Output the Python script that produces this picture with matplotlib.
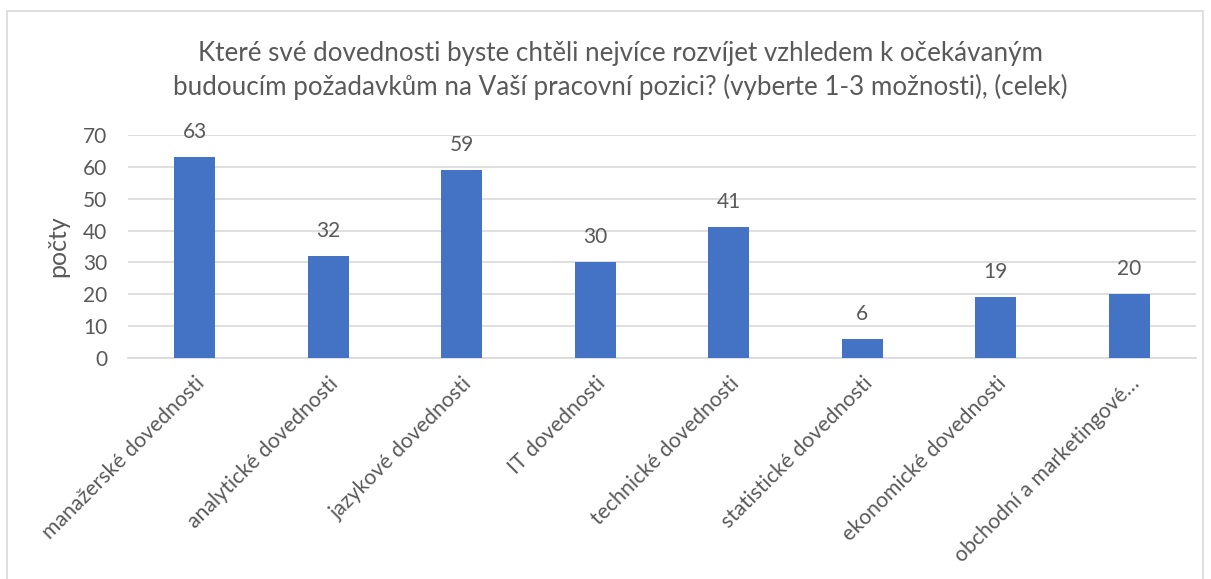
import matplotlib.pyplot as plt
import matplotlib.patches as patches

plt.rcParams['font.family'] = ['Lato', 'DejaVu Sans']

categories = ['manažerské dovednosti', 'analytické dovednosti', 'jazykové dovednosti',
              'IT dovednosti', 'technické dovednosti', 'statistické dovednosti',
              'ekonomické dovednosti', 'obchodní a marketingové…']
values = [63, 32, 59, 30, 41, 6, 19, 20]
yticks = [0, 10, 20, 30, 40, 50, 60, 70]

txt = '#595959'

fig = plt.figure(figsize=(12.11, 5.79), dpi=100)
ax = fig.add_axes([0.1057, 0.3817, 0.8819, 0.3851])

x = range(len(categories))
bars = ax.bar(x, values, width=0.31, color='#4472C4', zorder=3)
for b, v in zip(bars, values):
    ax.annotate(str(v), (b.get_x() + b.get_width() / 2, v), xytext=(0, 18),
                textcoords='offset points', ha='center', va='center',
                fontsize=15, color=txt)

ax.set_xlim(-0.5, len(categories) - 0.5)
ax.set_ylim(0, 70)
ax.set_yticks(yticks)
ax.yaxis.grid(True, color='#D9D9D9', linewidth=1.2, zorder=0)
for s in ['top', 'right', 'left']:
    ax.spines[s].set_visible(False)
ax.spines['bottom'].set_color('#D9D9D9')
ax.spines['bottom'].set_linewidth(1.2)
ax.tick_params(axis='both', length=0, labelsize=15, labelcolor=txt)
ax.tick_params(axis='y', pad=15)
ax.set_xticks(list(x))
ax.set_xticklabels(categories, rotation=45, ha='right', rotation_mode='anchor',
                   fontsize=15.3)
ax.tick_params(axis='x', pad=11)
ax.set_ylabel('počty', fontsize=18, color=txt, labelpad=10)

fig.text(0.512, 0.878, 'Které své dovednosti byste chtěli nejvíce rozvíjet vzhledem k očekávaným\n'
         'budoucím požadavkům na Vaší pracovní pozici? (vyberte 1-3 možnosti), (celek)',
         ha='center', va='center', fontsize=18.7, color=txt, linespacing=1.4)

fig.patches.append(patches.Rectangle((7 / 1211, -0.01), 1196 / 1211, 1 - 11 / 579 + 0.01,
                                     transform=fig.transFigure, fill=False,
                                     edgecolor='#D9D9D9', linewidth=1.2))

fig.savefig('out.png', dpi=100)
